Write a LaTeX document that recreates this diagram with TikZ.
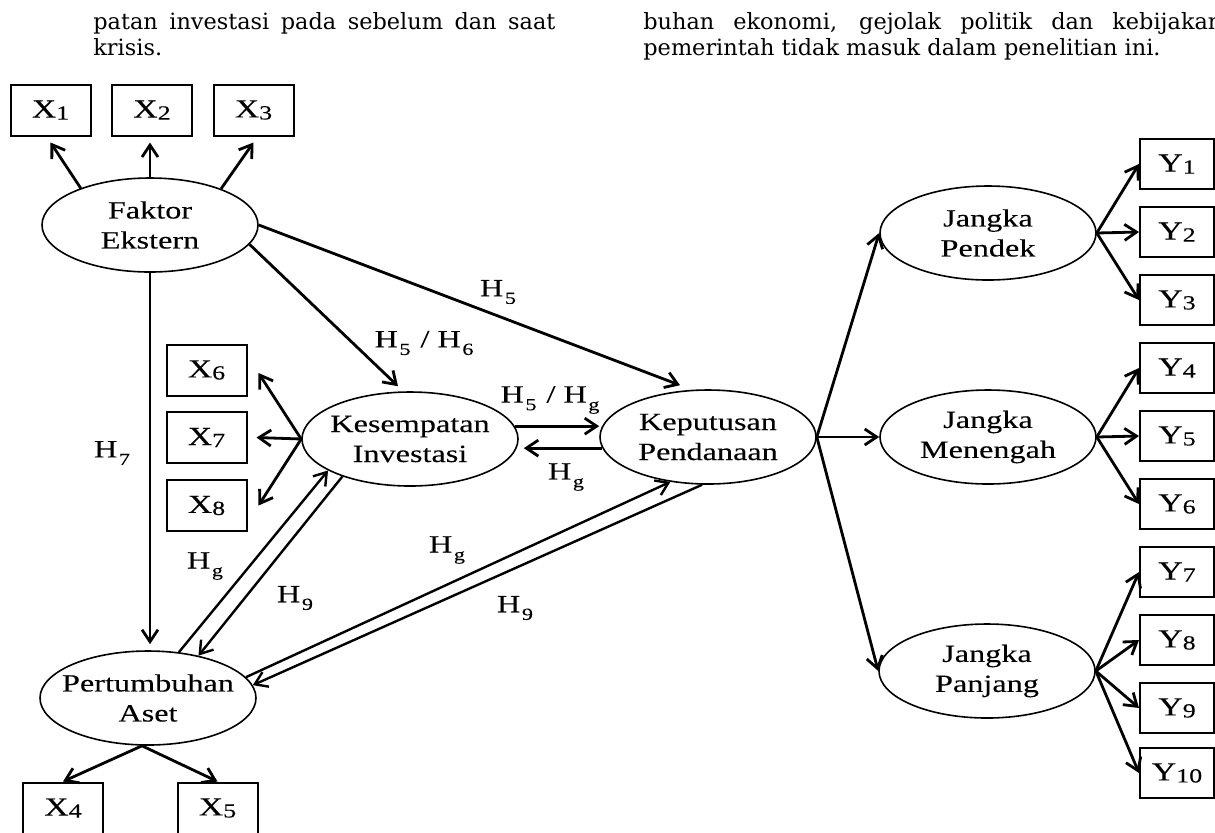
\documentclass[tikz,border=0pt]{standalone}
\usepackage{fontspec}
\setmainfont{Liberation Serif}[FakeStretch=1.3,FakeBold=0.15]
\newfontfamily\topfont{DejaVu Serif}
\usetikzlibrary{shapes.geometric,arrows.meta,calc}
\newcommand\Hl[1]{H\kern0.8pt\raisebox{-3.8pt}{\fontsize{8.5}{8.5}\selectfont #1}}
\newcommand\sbx[1]{\raisebox{-1pt}{\fontsize{10}{10}\selectfont #1}}
\newcommand\two[2]{\makebox[0pt]{#1}\\\makebox[0pt]{#2}}
\begin{document}
\begin{tikzpicture}[x=0.5pt,y=-0.5pt,
 lat/.style={ellipse,draw,line width=0.8pt,minimum width=108pt,minimum height=47pt,inner sep=0pt,align=center,font=\fontsize{12.4}{15}\selectfont},
 obs/.style={rectangle,draw,line width=1pt,minimum width=40pt,minimum height=25.5pt,inner sep=0pt,font=\fontsize{13}{14}\selectfont},
 yobs/.style={obs,minimum width=37pt,minimum height=25pt},
 arr/.style={-{Straight Barb[length=6pt,width=8pt]},line width=1.4pt},
 hyp/.style={font=\fontsize{12.4}{14}\selectfont,inner sep=0pt},
 toptext/.style={font=\topfont\fontsize{11.2}{13}\selectfont,inner sep=0pt,anchor=base west}]

\useasboundingbox (0,0) rectangle (1215,832);

% running text
\node[toptext] (t1) at (93,29) {\makebox[231pt][s]{patan investasi pada sebelum dan saat}};
\node[toptext] (t2) at (93,55) {krisis.};
\node[toptext] (t3) at (643,29) {\makebox[289.5pt][s]{buhan ekonomi, gejolak politik dan kebijakan}};
\node[toptext] (t4) at (643,55) {pemerintah tidak masuk dalam penelitian ini.};

% latent variables
\node[lat] (fe) at (150,225) {\two{Faktor}{Ekstern}};
\node[lat] (ki) at (410,439) {\two{Kesempatan}{Investasi}};
\node[lat] (kp) at (708,437) {\two{Keputusan}{Pendanaan}};
\node[lat] (pa) at (148,698) {\two{Pertumbuhan}{Aset}};
\node[lat] (jp) at (988,233) {\two{Jangka}{Pendek}};
\node[lat] (jm) at (988,437) {\two{Jangka}{Menengah}};
\node[lat] (jl) at (987,671) {\two{Jangka}{Panjang}};

% indicators
\node[obs] (x1) at (50.5,110) {X\sbx{1}};
\node[obs] (x2) at (152,110) {X\sbx{2}};
\node[obs] (x3) at (253.5,110) {X\sbx{3}};
\node[obs] (x6) at (206.5,370) {X\sbx{6}};
\node[obs] (x7) at (206.5,437.5) {X\sbx{7}};
\node[obs] (x8) at (206.5,505.5) {X\sbx{8}};
\node[obs] (x4) at (63,808) {X\sbx{4}};
\node[obs] (x5) at (217.5,808) {X\sbx{5}};

\node[yobs] (y1) at (1177,164) {Y\sbx{1}};
\node[yobs] (y2) at (1177,232) {Y\sbx{2}};
\node[yobs] (y3) at (1177,300) {Y\sbx{3}};
\node[yobs] (y4) at (1177,368) {Y\sbx{4}};
\node[yobs] (y5) at (1177,436) {Y\sbx{5}};
\node[yobs] (y6) at (1177,504) {Y\sbx{6}};
\node[yobs] (y7) at (1177,572) {Y\sbx{7}};
\node[yobs] (y8) at (1177,640) {Y\sbx{8}};
\node[yobs] (y9) at (1177,708) {Y\sbx{9}};
\node[yobs] (y10) at (1177,773) {Y\sbx{10}};

% arrows from Faktor Ekstern
\draw[arr] (fe.152) -- ([yshift=-3pt]x1.south);
\draw[arr] (fe.north) -- ([yshift=-3pt]fe.north |- x2.south);
\draw[arr] (fe.27) -- ([yshift=-3pt]x3.south);
\draw[arr] (fe.-11) -- ([xshift=-6pt,yshift=2.5pt]ki.north);
\draw[arr] (fe.east) -- ([xshift=-14pt,yshift=2pt]kp.north);
\draw[arr,shorten >=3pt] (fe.south) -- (fe.south |- pa.north);

% Kesempatan Investasi indicators
\draw[arr] (ki.west) -- ([xshift=5.5pt,yshift=-1.5pt]x6.east);
\draw[arr] (ki.west) -- ([xshift=4.5pt]x7.east);
\draw[arr] (ki.west) -- ([xshift=5.5pt]x8.east);

% between Kesempatan and Keputusan
\draw[arr] (ki.7) -- (ki.7 -| kp.west);
\draw[arr] (kp.186) -- ($(kp.186 -| ki.east)+(2.5pt,0)$);

% Pertumbuhan Aset links
\draw[arr,line width=1.2pt] (pa.56) -- (ki.201);
\draw[arr,line width=1.2pt] (ki.209) -- (pa.40);
\draw[arr,line width=1.2pt] (pa.12) -- (kp.230);
\draw[arr,line width=1.2pt] (kp.263) -- (pa.7);
\draw[arr] ([xshift=-3pt]pa.south) -- (x4.north);
\draw[arr] ([xshift=-3pt]pa.south) -- (x5.north);

% Keputusan to Jangka
\draw[arr] (kp.east) -- (jp.west);
\draw[arr] (kp.east) -- (jm.west);
\draw[arr] (kp.east) -- (jl.west);

\draw[arr] (jp.east) -- (y1.west);
\draw[arr] (jp.east) -- (y2.west);
\draw[arr] (jp.east) -- (y3.west);
\draw[arr] (jm.east) -- (y4.west);
\draw[arr] (jm.east) -- (y5.west);
\draw[arr] (jm.east) -- (y6.west);
\draw[arr] (jl.east) -- (y7.west);
\draw[arr] (jl.east) -- (y8.west);
\draw[arr] (jl.east) -- (y9.west);
\draw[arr] (jl.east) -- (y10.west);

% hypothesis labels
\node[hyp] (h1) at (498,292) {\Hl{5}};
\node[hyp] (h2) at (424,343) {\Hl{5}\hspace{5pt}/\hspace{4pt}\Hl{6}};
\node[hyp] (h3) at (550,400) {\Hl{5}\hspace{5pt}/\hspace{4pt}\Hl{g}};
\node[hyp] (h4) at (566,477) {\Hl{g}};
\node[hyp] (h5) at (112,453) {\Hl{7}};
\node[hyp] (h6) at (205,566) {\Hl{g}};
\node[hyp] (h7) at (295,598) {\Hl{9}};
\node[hyp] (h8) at (447,550) {\Hl{g}};
\node[hyp] (h9) at (515,608) {\Hl{9}};
\end{tikzpicture}
\end{document}
